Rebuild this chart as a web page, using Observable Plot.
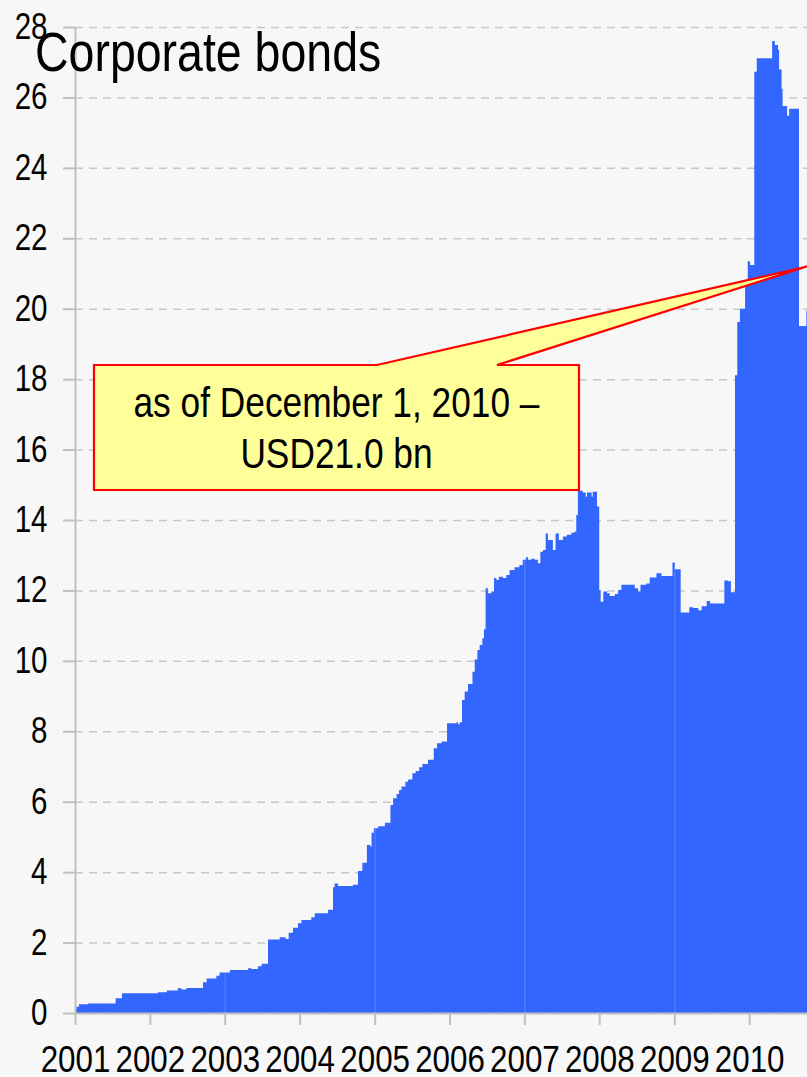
<!DOCTYPE html>
<html>
<head>
<meta charset="utf-8">
<script src="https://cdn.jsdelivr.net/npm/d3@7"></script>
<script src="https://cdn.jsdelivr.net/npm/@observablehq/plot@0.6"></script>
<style>
  html, body { margin: 0; padding: 0; background: #f7f7f7; overflow: hidden; }
  #chart svg { display: block; }
</style>
</head>
<body>
<div id="chart"></div>
<script>
const title = "Corporate bonds";
const calloutLines = ["as of December 1, 2010 –", "USD21.0 bn"];
const xTickYears = ["2001","2002","2003","2004","2005","2006","2007","2008","2009","2010"];
const yTicks = [0,2,4,6,8,10,12,14,16,18,20,22,24,26,28];
const seamYears = ["2003","2005","2007","2009"];
const xDomainEnd = "2010-10-10";
const tipValue = 21.2;

const dates = [
"2001-01-02","2001-01-20","2001-03-05","2001-07-18","2001-08-18",
"2002-02-09","2002-03-25","2002-05-17","2002-06-04","2002-06-28","2002-09-17","2002-10-05","2002-11-21","2002-12-07",
"2003-01-26","2003-04-25","2003-05-11","2003-06-12","2003-06-30","2003-07-31","2003-09-26","2003-10-25","2003-11-09","2003-11-30","2003-12-24",
"2004-01-10","2004-02-27","2004-03-15","2004-05-19","2004-06-12","2004-06-20","2004-07-06","2004-09-17","2004-10-12","2004-11-02","2004-11-24","2004-12-11","2004-12-17","2004-12-28",
"2005-01-18","2005-02-20","2005-03-19","2005-04-01","2005-04-18","2005-04-30","2005-05-12","2005-05-31","2005-06-13","2005-07-04","2005-07-20","2005-08-06","2005-08-22","2005-09-18","2005-10-16","2005-11-01","2005-11-23","2005-12-20",
"2006-02-04","2006-02-12","2006-02-20","2006-03-03","2006-03-16","2006-04-01","2006-04-23","2006-05-04","2006-05-17","2006-05-28","2006-06-10","2006-06-18","2006-06-26","2006-07-07","2006-07-24","2006-08-06","2006-08-17","2006-08-30","2006-09-18","2006-10-05","2006-10-21","2006-11-14","2006-12-08","2006-12-24",
"2007-01-08","2007-01-19","2007-02-04","2007-02-20","2007-03-08","2007-03-20","2007-04-02","2007-04-15","2007-04-26","2007-05-20","2007-06-02","2007-06-18","2007-07-08","2007-07-27","2007-08-18","2007-09-03","2007-09-11","2007-09-19","2007-10-13","2007-10-27","2007-11-02","2007-11-25","2007-11-30","2007-12-21",
"2008-01-01","2008-01-08","2008-01-21","2008-02-08","2008-02-21","2008-03-17","2008-04-02","2008-04-18","2008-06-22","2008-07-08","2008-07-20","2008-08-18","2008-09-03","2008-10-06","2008-10-30","2008-12-23",
"2009-01-04","2009-02-01","2009-03-15","2009-04-03","2009-04-28","2009-05-14","2009-06-08","2009-06-24","2009-09-02","2009-09-21","2009-10-04","2009-10-24","2009-11-04","2009-11-17","2009-12-12","2009-12-25",
"2010-01-05","2010-01-26","2010-02-07","2010-04-23","2010-05-06","2010-05-22","2010-05-27","2010-06-08","2010-06-13","2010-07-05","2010-07-15","2010-09-01","2010-10-07","2010-12-01"
];
const values = [
0.18,0.25,0.27,0.42,0.56,
0.59,0.64,0.70,0.67,0.71,0.87,0.98,1.06,1.15,
1.22,1.27,1.25,1.33,1.40,2.09,2.15,2.10,2.28,2.42,2.55,
2.64,2.72,2.83,2.93,3.57,3.68,3.61,3.64,4.03,4.27,4.77,4.73,5.12,5.25,
5.30,5.40,5.91,6.10,6.22,6.33,6.43,6.57,6.63,6.81,6.87,6.98,7.07,7.19,7.52,7.66,7.71,8.23,
8.26,8.20,8.26,8.89,9.13,9.34,9.69,10.04,10.31,10.45,10.64,10.90,12.06,11.92,11.97,12.35,12.30,12.39,12.35,12.44,12.58,12.66,12.72,12.87,
12.94,12.87,12.90,12.87,12.77,13.10,13.15,13.62,13.43,13.15,13.62,13.43,13.53,13.58,13.64,13.67,14.14,14.83,14.78,14.66,14.78,14.66,14.80,14.38,
12.01,11.68,11.97,11.92,11.84,11.90,12.01,12.16,12.06,11.97,12.16,12.20,12.37,12.49,12.41,12.79,
12.60,11.37,11.52,11.50,11.44,11.55,11.70,11.63,12.28,12.26,11.95,18.11,19.62,20.00,20.70,21.35,
21.24,26.73,27.11,27.60,27.49,27.35,26.79,26.25,25.76,25.48,25.68,19.51,19.94,21.00
];

const parse = d3.utcParse("%Y-%m-%d");
const table = dates.map((d, i) => ({date: parse(d), value: values[i]}));
const yearDates = xTickYears.map(y => parse(y + "-01-01"));
const seamDates = seamYears.map(y => parse(y + "-01-01"));
const x0 = parse("2001-01-01");
const x1 = parse(xDomainEnd);

const font = "'Liberation Sans', Arial, Helvetica, sans-serif";

const chart = Plot.plot({
  width: 807,
  height: 1077,
  marginLeft: 75,
  marginRight: 0,
  marginTop: 27,
  marginBottom: 64,
  style: {background: "#f7f7f7", fontFamily: font, fontSize: "36px", color: "#000", overflow: "visible"},
  x: {type: "utc", domain: [x0, x1]},
  y: {domain: [0, 28]},
  marks: [
    Plot.gridY(yTicks, {stroke: "#c8c8c8", strokeOpacity: 1, strokeWidth: 1.5, strokeDasharray: "8,6"}),
    Plot.areaY(table, {x: "date", y: "value", curve: "step-after", fill: "#3366ff", clip: true}),
    Plot.ruleX(seamDates, {stroke: "#ffffff", strokeOpacity: 0.2, strokeWidth: 1}),
    Plot.ruleY([0], {stroke: "#c0c0c0", strokeWidth: 2}),
    Plot.ruleX([x0], {stroke: "#c0c0c0", strokeWidth: 2}),
    Plot.axisY({ticks: yTicks, tickSize: 12, tickPadding: 16, stroke: "#c0c0c0", strokeWidth: 2, fontSize: 36, label: null}),
    Plot.axisX({ticks: yearDates, tickSize: 12, tickPadding: 21, stroke: "#c0c0c0", strokeWidth: 2, fontSize: 36, tickFormat: d3.utcFormat("%Y"), label: null})
  ]
});

document.getElementById("chart").appendChild(chart);

const svg = d3.select(chart);

// emulate the narrow face of the original by compressing glyphs horizontally
function condense(sel, k) {
  sel.each(function() {
    const w = this.getComputedTextLength();
    if (w > 0) {
      d3.select(this).attr("textLength", (w * k).toFixed(2)).attr("lengthAdjust", "spacingAndGlyphs");
    }
  });
}

condense(svg.selectAll('g[aria-label="x-axis tick label"] text'), 0.87);
condense(svg.selectAll('g[aria-label="y-axis tick label"] text'), 0.82);

const sx = chart.scale("x"), sy = chart.scale("y");
const tipX = sx.apply(x1), tipY = sy.apply(tipValue);

// Callout box with pointer
const box = {left: 94, top: 365, right: 579, bottom: 490, p1: 377, p2: 497};
svg.append("path")
  .attr("d", `M${box.left},${box.top}H${box.p1}L${tipX},${tipY}L${box.p2},${box.top}H${box.right}V${box.bottom}H${box.left}Z`)
  .attr("fill", "#ffff99")
  .attr("stroke", "#ff0000")
  .attr("stroke-width", 2.2)
  .attr("stroke-linejoin", "miter");

const cx = (box.left + box.right) / 2;
[[calloutLines[0], 417], [calloutLines[1], 468]].forEach(([txt, y]) => {
  const t = svg.append("text")
    .attr("x", cx).attr("y", y)
    .attr("text-anchor", "middle")
    .attr("font-family", font).attr("font-size", 42).attr("fill", "#000")
    .text(txt);
  condense(t, 0.84);
});

// Title
const tt = svg.append("text")
  .attr("x", 35).attr("y", 71)
  .attr("text-anchor", "start")
  .attr("font-family", font).attr("font-size", 56).attr("fill", "#000")
  .text(title);
condense(tt, 0.83);
</script>
</body>
</html>
